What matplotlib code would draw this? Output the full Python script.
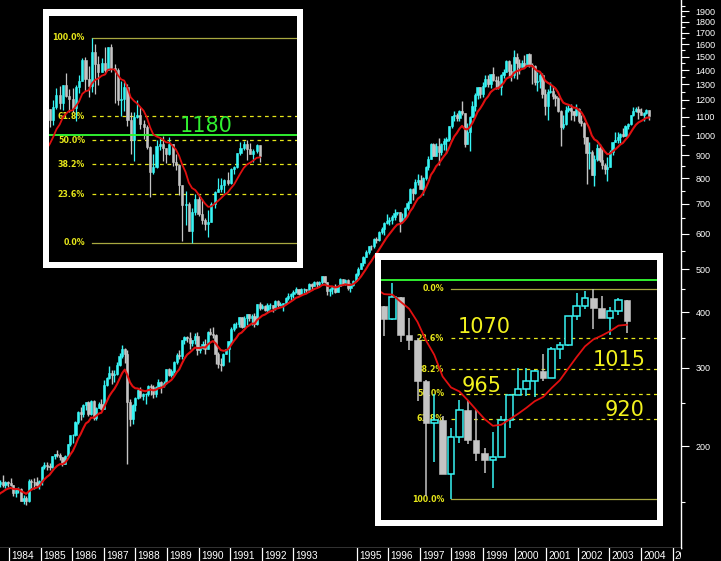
import numpy as np
import pandas as pd
import matplotlib
matplotlib.use("Agg")
import matplotlib.pyplot as plt
from matplotlib.ticker import FixedLocator, FixedFormatter, NullFormatter

# ---------------- data (monthly OHLC, S&P 500) ----------------
first_month = "1982-08"
close = [
    119.51, 120.42, 133.72, 138.54, 140.64,
    145.30, 148.06, 152.96, 164.42, 162.39, 168.11, 162.56, 164.40, 166.07, 163.55, 166.40, 164.93,
    163.41, 157.06, 159.18, 160.05, 150.55, 153.18, 150.66, 166.68, 166.10, 166.09, 163.58, 167.24,
    179.63, 181.18, 180.66, 179.83, 189.55, 191.85, 190.92, 188.63, 182.08, 189.82, 202.17, 211.28,
    211.78, 226.92, 238.90, 235.52, 247.35, 250.84, 236.12, 252.93, 231.32, 243.98, 249.22, 242.17,
    274.08, 284.20, 291.70, 288.36, 290.10, 304.00, 318.66, 329.80, 321.83, 251.79, 230.30, 247.08,
    257.07, 267.82, 258.89, 261.33, 262.16, 273.50, 272.02, 261.52, 271.91, 278.97, 273.70, 277.72,
    297.47, 288.86, 294.87, 309.64, 320.52, 317.98, 346.08, 351.45, 349.15, 340.36, 345.99, 353.40,
    329.08, 331.89, 339.94, 330.80, 361.23, 358.02, 356.15, 322.56, 306.05, 304.00, 322.22, 330.22,
    343.93, 367.07, 375.22, 375.34, 389.83, 371.16, 387.81, 395.43, 387.86, 392.45, 375.22, 417.09,
    408.79, 412.70, 403.69, 414.95, 415.35, 408.14, 424.21, 414.03, 417.80, 418.68, 431.35, 435.71,
    438.78, 443.38, 451.67, 440.19, 450.19, 450.53, 448.13, 463.56, 458.93, 467.83, 461.79, 466.45,
    481.61, 467.14, 445.77, 450.91, 456.50, 444.27, 458.26, 475.49, 462.69, 472.35, 453.69, 459.27,
    470.42, 487.39, 500.71, 514.71, 533.40, 544.75, 562.06, 561.88, 584.41, 581.50, 605.37, 615.93,
    636.02, 640.43, 645.50, 654.17, 669.12, 670.63, 639.95, 651.99, 687.31, 705.27, 757.02, 740.74,
    786.16, 790.82, 757.12, 801.34, 848.28, 885.14, 954.29, 899.47, 947.28, 914.62, 955.40, 970.43,
    980.28, 1049.34, 1101.75, 1111.75, 1090.82, 1133.84, 1120.67, 957.28, 1017.01, 1098.67, 1163.63, 1229.23,
    1279.64, 1238.33, 1286.37, 1335.18, 1301.84, 1372.71, 1328.72, 1320.41, 1282.71, 1362.93, 1388.91, 1469.25,
    1394.46, 1366.42, 1498.58, 1452.43, 1420.60, 1454.60, 1430.83, 1517.68, 1436.51, 1429.40, 1314.95, 1320.28,
    1366.01, 1239.94, 1160.33, 1249.46, 1255.82, 1224.42, 1211.23, 1133.58, 1040.94, 1059.78, 1139.45, 1148.08,
    1130.20, 1106.73, 1147.39, 1076.92, 1067.14, 989.82, 911.62, 916.07, 815.28, 885.76, 936.31, 879.82,
    855.70, 841.15, 848.18, 916.92, 963.59, 974.50, 990.31, 1008.01, 995.97, 1050.71, 1058.20, 1111.92,
    1131.13, 1144.94, 1126.21, 1107.30, 1120.68, 1140.84, 1101.72,
]
high = [
    120.0, 125.0, 138.0, 143.0, 144.0,
    148.0, 149.0, 154.0, 165.0, 167.0, 171.0, 172.7, 164.9, 167.5, 172.6, 167.2, 167.0,
    169.5, 163.5, 160.9, 162.2, 161.1, 155.1, 154.1, 168.8, 168.6, 169.6, 170.4, 168.0,
    180.3, 183.9, 183.9, 183.6, 190.3, 192.0, 196.4, 193.0, 188.6, 191.0, 202.4, 212.0,
    213.1, 227.7, 240.0, 244.7, 249.2, 251.8, 253.0, 254.0, 254.4, 244.6, 251.0, 254.9,
    280.9, 285.5, 301.9, 296.8, 296.6, 309.3, 323.0, 337.9, 333.0, 328.9, 255.8, 249.2,
    258.0, 268.6, 271.6, 263.2, 263.4, 274.0, 276.0, 274.0, 273.0, 283.7, 280.0, 279.5,
    297.5, 300.0, 298.0, 310.0, 323.0, 328.0, 347.0, 353.7, 354.0, 360.4, 347.0, 359.0,
    360.6, 335.2, 344.5, 347.3, 362.3, 368.0, 369.8, 357.0, 325.0, 316.0, 323.0, 331.0,
    344.0, 370.0, 378.0, 381.0, 391.0, 390.0, 392.0, 396.0, 396.0, 396.0, 398.0, 418.0,
    420.8, 418.0, 414.0, 419.0, 419.0, 416.0, 425.0, 425.0, 422.0, 419.5, 432.0, 442.0,
    442.0, 449.0, 456.0, 452.0, 454.0, 453.0, 451.0, 464.0, 464.0, 471.0, 469.0, 470.0,
    482.9, 482.0, 468.0, 453.0, 458.0, 462.0, 460.0, 477.0, 476.0, 474.0, 474.0, 466.0,
    473.0, 489.0, 504.0, 515.0, 534.0, 552.0, 564.0, 566.0, 586.0, 590.0, 609.0, 623.0,
    638.0, 665.0, 656.0, 660.0, 681.0, 673.0, 673.0, 669.0, 690.0, 711.0, 762.0, 762.0,
    795.0, 818.0, 815.0, 805.0, 851.0, 899.0, 961.0, 961.0, 961.0, 983.0, 960.0, 986.0,
    992.0, 1050.0, 1106.0, 1131.0, 1122.0, 1139.0, 1190.0, 1122.0, 1066.0, 1104.0, 1193.0, 1245.0,
    1285.0, 1281.0, 1316.0, 1362.0, 1368.0, 1373.0, 1419.0, 1357.0, 1361.0, 1373.0, 1409.0, 1474.0,
    1478.0, 1445.0, 1553.0, 1528.0, 1482.0, 1474.0, 1517.0, 1519.0, 1530.0, 1454.0, 1437.0, 1389.0,
    1384.0, 1376.0, 1268.0, 1269.0, 1316.0, 1287.0, 1239.0, 1218.0, 1138.0, 1110.0, 1163.0, 1173.0,
    1176.0, 1131.0, 1173.0, 1148.0, 1107.0, 1070.0, 991.0, 965.0, 925.0, 901.0, 954.0, 954.0,
    935.0, 864.0, 895.0, 924.0, 965.0, 1015.0, 1015.0, 1011.0, 1040.0, 1054.0, 1063.0, 1112.0,
    1155.0, 1158.0, 1163.0, 1150.0, 1128.0, 1146.0, 1141.0,
]
low = [
    102.0, 116.0, 120.0, 132.0, 133.0,
    138.0, 140.0, 146.0, 152.0, 161.0, 160.9, 160.1, 158.5, 162.1, 161.9, 161.0, 161.7,
    162.9, 154.2, 153.5, 156.9, 150.3, 147.8, 147.3, 150.1, 160.9, 160.0, 162.0, 160.5,
    163.4, 177.4, 176.5, 177.0, 178.3, 187.2, 189.0, 186.1, 180.2, 181.9, 189.8, 200.0,
    203.5, 210.8, 224.4, 228.3, 232.3, 241.3, 233.3, 234.9, 228.7, 228.7, 243.0, 241.6,
    242.0, 273.4, 282.8, 276.2, 278.2, 288.3, 302.4, 316.2, 308.1, 182.0, 222.0, 223.9,
    240.2, 255.0, 256.0, 254.0, 248.9, 259.0, 260.0, 256.0, 258.0, 271.0, 263.0, 271.0,
    275.3, 287.0, 285.9, 292.5, 305.6, 314.0, 314.0, 339.0, 342.0, 330.0, 336.0, 339.0,
    319.8, 322.9, 330.0, 322.0, 330.8, 355.0, 349.0, 306.0, 300.0, 294.5, 303.0, 322.0,
    309.4, 341.0, 363.0, 368.0, 370.0, 368.0, 370.0, 374.0, 383.0, 375.0, 371.0, 374.0,
    404.0, 406.0, 402.0, 401.0, 407.0, 401.0, 404.0, 410.0, 413.0, 402.0, 417.0, 426.0,
    425.0, 431.0, 441.0, 436.0, 437.0, 441.0, 441.0, 445.0, 449.0, 457.0, 455.0, 457.0,
    463.0, 464.0, 436.0, 435.0, 440.0, 442.0, 443.0, 457.0, 460.0, 460.0, 449.0, 443.0,
    457.0, 469.0, 481.0, 499.0, 509.0, 531.0, 540.0, 553.0, 558.0, 573.0, 578.0, 600.0,
    597.0, 632.0, 627.0, 630.0, 643.0, 660.0, 605.0, 638.0, 649.0, 680.0, 702.0, 714.0,
    737.0, 773.0, 756.0, 733.0, 793.0, 836.0, 882.0, 897.0, 898.0, 855.0, 903.0, 926.0,
    913.0, 970.0, 1038.0, 1076.0, 1074.0, 1075.0, 1109.0, 939.0, 956.0, 923.0, 1096.0, 1132.0,
    1205.0, 1212.0, 1218.0, 1282.0, 1281.0, 1278.0, 1325.0, 1268.0, 1268.0, 1233.0, 1341.0, 1386.0,
    1350.0, 1325.0, 1346.0, 1339.0, 1373.0, 1421.0, 1413.0, 1431.0, 1420.0, 1305.0, 1295.0, 1254.0,
    1274.0, 1214.0, 1107.0, 1081.0, 1244.0, 1203.0, 1165.0, 1129.0, 944.0, 1031.0, 1054.0, 1124.0,
    1081.0, 1074.0, 1104.0, 1063.0, 1048.0, 953.0, 775.0, 838.0, 815.0, 768.6, 873.0, 872.0,
    840.0, 817.0, 789.0, 847.0, 902.0, 963.0, 962.0, 960.0, 990.0, 995.0, 1031.0, 1055.0,
    1105.0, 1124.0, 1087.0, 1107.0, 1076.0, 1113.0, 1079.0,
]

price_ticks = [200, 300, 400, 500, 600, 700, 800, 900, 1000, 1100, 1200,
               1300, 1400, 1500, 1600, 1700, 1800, 1900]
price_tick_labels = [str(v) for v in price_ticks]
price_minor_ticks = [150, 250, 350, 450, 550, 650, 750, 850, 950, 1050, 1150,
                     1250, 1350, 1450, 1550, 1650, 1750, 1850, 1950]
year_labels = [1984, 1985, 1986, 1987, 1988, 1989, 1990, 1991, 1992, 1993,
               1995, 1996, 1997, 1998, 1999, 2000, 2001, 2002, 2003, 2004, 2005]

fib_ratios = [0.0, 0.236, 0.382, 0.5, 0.618, 1.0]
fib_labels = ["0.0%", "23.6%", "38.2%", "50.0%", "61.8%", "100.0%"]
resistance = 1180
resistance_label = "1180"
inset2_notes = ["1070", "1015", "965", "920"]

# ---------------- derived ----------------
c = np.array(close)
h = np.array(high)
l = np.array(low)
o = np.concatenate([[c[0]], c[:-1]])
offset = (pd.Period(first_month, "M") - pd.Period("1984-01", "M")).n
x = np.arange(len(c)) + offset
ema = pd.Series(c).ewm(span=10, adjust=False).mean().values

CYAN = "#38f4f4"
GREY = "#c4c4c4"
RED = "#e01010"
YEL = "#e6e61a"
OLIVE = "#a8a840"
GREEN = "#30ee30"

W, H = 721, 561


def rect(x0, y0, x1, y1):
    return [x0 / W, 1 - y1 / H, (x1 - x0) / W, (y1 - y0) / H]


def draw_candles(ax, xs, oo, hh, ll, cc, width, hollow, lw, z=2):
    up = cc >= oo
    cols = np.where(up, CYAN, GREY)
    ax.vlines(xs, ll, hh, colors=cols, lw=lw, zorder=z)
    bot = np.minimum(oo, cc)
    hgt = np.abs(cc - oo)
    if hollow:
        ax.bar(xs[up], hgt[up], width, bot[up], facecolor="black",
               edgecolor=CYAN, linewidth=lw, zorder=z + 0.1)
    else:
        ax.bar(xs[up], hgt[up], width, bot[up], facecolor=CYAN,
               edgecolor=CYAN, linewidth=0.4, zorder=z + 0.1)
    ax.bar(xs[~up], hgt[~up], width, bot[~up], facecolor=GREY,
           edgecolor=GREY, linewidth=0.4, zorder=z + 0.1)


fig = plt.figure(figsize=(7.21, 5.61), dpi=100, facecolor="black")

# ---------------- main chart ----------------
ax = fig.add_axes(rect(0, 0, 681, 548))
ax.set_facecolor("black")
ax.set_yscale("log")
ax.set_xlim(-4.09, 258.4)
ax.set_ylim(118, 2012)
draw_candles(ax, x, o, h, l, c, 0.85, False, 1.0)
ax.plot(x, ema, color=RED, lw=1.5, zorder=3)
for s in ["left", "top"]:
    ax.spines[s].set_visible(False)
for s in ["right", "bottom"]:
    ax.spines[s].set_color("white")
    ax.spines[s].set_linewidth(1.0)
ax.yaxis.tick_right()
ax.yaxis.set_major_locator(FixedLocator(price_ticks))
ax.yaxis.set_major_formatter(FixedFormatter(price_tick_labels))
ax.yaxis.set_minor_locator(FixedLocator(price_minor_ticks))
ax.yaxis.set_minor_formatter(NullFormatter())
ax.tick_params(axis="y", which="major", colors="white", length=5.5, width=0.8,
               direction="out", pad=5, labelsize=6.5, labelfontfamily="Liberation Sans")
ax.tick_params(axis="y", which="minor", colors="white", length=3, width=0.8,
               direction="out")
ax.set_xticks([])

# year strip
sax = fig.add_axes(rect(0, 548, 681, 561))
sax.set_facecolor("black")
sax.set_xlim(1983.715, 2005.266)
sax.set_ylim(0, 1)
sax.set_xticks([])
sax.set_yticks([])
for s in sax.spines.values():
    s.set_visible(False)
for yr in year_labels:
    sax.axvline(yr, color="white", lw=0.9)
    sax.text(yr + 0.07, 0.42, str(yr), color="white", fontsize=7.3,
             family="Liberation Sans", ha="left", va="center", clip_on=True)

# ---------------- inset helpers ----------------


def inset(x0, y0, x1, y1, border):
    fr = fig.add_axes(rect(x0, y0, x1, y1), zorder=5)
    fr.set_facecolor("white")
    fr.set_xticks([]); fr.set_yticks([])
    for s in fr.spines.values():
        s.set_visible(False)
    ia = fig.add_axes(rect(x0 + border, y0 + border + 1, x1 - border, y1 - border), zorder=6)
    ia.set_facecolor("black")
    ia.set_xticks([]); ia.set_yticks([])
    for s in ia.spines.values():
        s.set_visible(False)
    return ia


# ---------------- inset 1 (2000-2004, fib from low) ----------------
a1 = inset(43, 9, 303, 268, 6)
m1 = x >= 179
draw_candles(a1, x[m1], o[m1], h[m1], l[m1], c[m1], 0.65, False, 0.9)
a1.plot(x[m1], ema[m1], color=RED, lw=1.3, zorder=3)
a1.set_xlim(180.7, 257.5)
a1.set_ylim(695, 1636)
w1 = x >= 190
i_hi = np.argmax(np.where(w1, h, -np.inf))
fib_hi = h[i_hi]
i_lo = np.argmin(np.where(x > x[i_hi], l, np.inf))
fib_lo = l[i_lo]
for r, lab in zip(fib_ratios, fib_labels):
    v = fib_lo + r * (fib_hi - fib_lo)
    solid = r in (0.0, 1.0)
    a1.plot([x[i_hi], 300], [v, v], color=OLIVE if solid else YEL,
            lw=0.9, ls="-" if solid else (0, (3, 3)), zorder=1.5)
    a1.annotate(lab, xy=(x[i_hi], v), xytext=(-5, 0), textcoords="offset points",
                ha="right", va="center", color=YEL, fontsize=5.7,
                fontweight="bold", zorder=1)
a1.axhline(resistance, color=GREEN, lw=1.4, zorder=2.5)
a1.text(0.528, 0.553, resistance_label, transform=a1.transAxes, color=GREEN,
        fontsize=15, ha="left", va="center", zorder=5)

# ---------------- inset 2 (2002-2004, fib from high) ----------------
a2 = inset(375, 253, 663, 526, 6)
m2 = x >= 215
draw_candles(a2, x[m2], o[m2], h[m2], l[m2], c[m2], 0.8, True, 1.1)
a2.plot(x[m2], ema[m2], color=RED, lw=1.3, zorder=3)
a2.set_xlim(216.64, 249.6)
a2.set_ylim(729.4, 1216.6)
w2 = x >= 215
j_lo = np.argmin(np.where(w2, l, np.inf))
low2 = l[j_lo]
high2 = np.max(h[x > x[j_lo]])
for r, lab in zip(fib_ratios, fib_labels):
    v = high2 - r * (high2 - low2)
    solid = r in (0.0, 1.0)
    a2.plot([x[j_lo], 300], [v, v], color=OLIVE if solid else YEL,
            lw=0.9, ls="-" if solid else (0, (3, 3)), zorder=1.5)
    a2.annotate(lab, xy=(x[j_lo], v), xytext=(-5, 0), textcoords="offset points",
                ha="right", va="center", color=YEL, fontsize=5.7,
                fontweight="bold", zorder=1)
a2.axhline(resistance, color=GREEN, lw=1.4, zorder=2.5)
note_pos = [(0.279, 0.743), (0.768, 0.617), (0.293, 0.517), (0.812, 0.425)]
for (px, py), t in zip(note_pos, inset2_notes):
    a2.text(px, py, t, transform=a2.transAxes, color="#f2f21e", fontsize=15,
            ha="left", va="center", zorder=5)

fig.savefig("out.png", dpi=100, facecolor=fig.get_facecolor())
